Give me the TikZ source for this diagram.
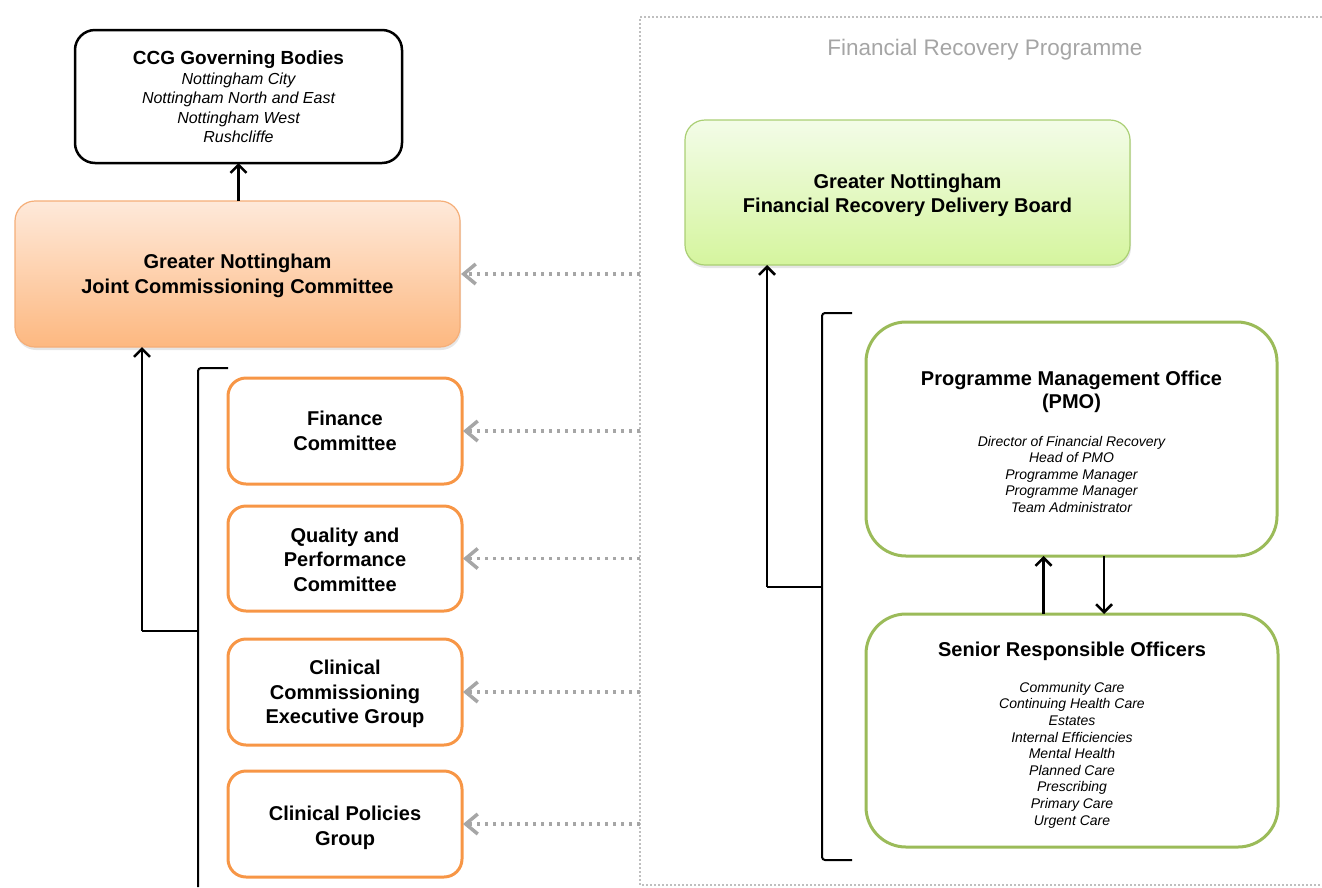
\documentclass[tikz,border=0pt]{standalone}
\usepackage{fontspec}
\setmainfont{Liberation Sans}
\usetikzlibrary{arrows.meta,shadows,calc}
\definecolor{orng}{HTML}{F79646}
\definecolor{orngL}{HTML}{F5AE78}
\definecolor{jcctop}{HTML}{FEE9DA}
\definecolor{jccbot}{HTML}{FDB880}
\definecolor{grn}{HTML}{9BBB59}
\definecolor{grnL}{HTML}{AACF74}
\definecolor{frtop}{HTML}{F3FCE8}
\definecolor{frbot}{HTML}{D5F59E}
\definecolor{dgray}{HTML}{A6A6A6}
\definecolor{fgray}{HTML}{BFBFBF}
\definecolor{tgray}{HTML}{A5A5A5}
\newcommand{\ttlfont}{\bfseries\fontsize{20}{24.5}\selectfont}
\newcommand{\itlist}{\mdseries\itshape\fontsize{14}{16.6}\selectfont}
\newcommand{\itccg}{\mdseries\itshape\fontsize{16}{19.3}\selectfont}
\newcommand{\tp}[1]{\rule{0pt}{#1pt}}
\begin{document}
\begin{tikzpicture}[x=1pt,y=-1pt,
  every node/.style={align=center, inner sep=0pt, outer sep=0pt},
  blackbox/.style={draw=black, line width=2.5pt, rounded corners=20pt, fill=white},
  jccbox/.style={draw=orngL, line width=1.2pt, rounded corners=20pt, top color=jcctop, bottom color=jccbot,
     drop shadow={opacity=0.2,shadow xshift=1pt,shadow yshift=-3pt}},
  frbox/.style={draw=grnL, line width=1.2pt, rounded corners=20pt, top color=frtop, bottom color=frbot,
     drop shadow={opacity=0.2,shadow xshift=1pt,shadow yshift=-3pt}},
  orbox/.style={draw=orng, line width=3pt, rounded corners=18pt, fill=white, minimum width=234pt, font=\ttlfont},
  gnbox/.style={draw=grn, line width=3pt, rounded corners=40pt, fill=white},
  barr/.style={draw=black, line width=2.5pt, -{Straight Barb[length=8pt,width=16pt]}},
  bline/.style={draw=black, line width=2pt},
  garr/.style={draw=dgray, line width=3.5pt, dash pattern=on 3.5pt off 4.5pt,
     -{Straight Barb[length=12pt,width=20pt,line width=3.5pt]}, shorten >=1pt},
  frame/.style={draw=fgray, line width=2pt, dash pattern=on 2pt off 2pt}
]
\useasboundingbox (0,0) rectangle (1322,887);

% frame
\coordinate (frTL) at (640,17);
\coordinate (frBL) at (640,885);
\draw[frame] (1322,17) -- (frTL) -- (frBL) -- (1322,885);
\node[font=\fontsize{22.5}{26}\selectfont, text=tgray, anchor=base] (frp) at (985,55) {Financial Recovery Programme};

% left side
\node[blackbox, minimum width=327pt, minimum height=133pt, font=\bfseries\fontsize{19}{20}\selectfont] (ccg) at (238.5,96.5)
  {\tp{20}CCG Governing Bodies\\{\itccg\begin{tabular}[t]{@{}c@{}}Nottingham City\\Nottingham North and East\\Nottingham West\\Rushcliffe\end{tabular}}};
\node[jccbox, minimum width=445pt, minimum height=146pt, font=\ttlfont] (jcc) at (237.5,274)
  {\tp{18.6}Greater Nottingham\\Joint Commissioning Committee};
\node[orbox, minimum height=106pt] (fin) at (345,431) {Finance\\Committee};
\node[orbox, minimum height=105pt] (qp) at (345,558.5) {\tp{16.6}Quality and\\Performance\\Committee};
\node[orbox, minimum height=106pt] (cceg) at (345,692) {\tp{18.6}Clinical\\Commissioning\\Executive Group};
\node[orbox, minimum height=106pt] (cpg) at (345,824) {\tp{22.6}Clinical Policies\\Group};

\draw[barr] (ccg.south |- jcc.north) -- (ccg.south);
\coordinate (b1) at (142,631);
\coordinate (br1t) at (228,368);
\coordinate (br1) at (198,368);
\draw[bline, rounded corners=3pt] (br1t) -- (br1) -- (198,887);
\draw[bline] (198,631) -- (b1);
\draw[barr] (b1) -- (b1 |- jcc.south);

% right side
\node[frbox, minimum width=445pt, minimum height=145pt, font=\ttlfont] (frdb) at (907.5,192.5)
  {\tp{20.6}Greater Nottingham\\Financial Recovery Delivery Board};
\node[gnbox, minimum width=411pt, minimum height=234pt, font=\bfseries\fontsize{20}{23}\selectfont] (pmo) at (1071.5,439)
  {\tp{24.5}Programme Management Office\\(PMO)\\[15pt]{\itlist\begin{tabular}[t]{@{}c@{}}Director of Financial Recovery\\Head of PMO\\Programme Manager\\Programme Manager\\Team Administrator\end{tabular}}};
\node[gnbox, minimum width=412pt, minimum height=233pt, font=\bfseries\fontsize{20}{23}\selectfont] (sro) at (1072,730.5)
  {\tp{25.5}Senior Responsible Officers\\[13pt]{\itlist\begin{tabular}[t]{@{}c@{}}Community Care\\Continuing Health Care\\Estates\\Internal Efficiencies\\Mental Health\\Planned Care\\Prescribing\\Primary Care\\Urgent Care\end{tabular}}};

\coordinate (b2) at (767,587);
\draw[bline, rounded corners=3pt] (852,313) -- (822,313) -- (822,860) -- (852,860);
\draw[bline] (822,587) -- (b2);
\draw[barr] (b2) -- (b2 |- frdb.south);

\draw[barr] ([xshift=-28.5pt]sro.north) -- ([xshift=-28.5pt]sro.north |- pmo.south);
\draw[barr] ([xshift=32.5pt]pmo.south) -- ([xshift=32.5pt]pmo.south |- sro.north);

% dotted connectors from the programme frame
\draw[garr] (jcc.east -| frTL) -- (jcc.east);
\draw[garr] (fin.east -| frTL) -- (fin.east);
\draw[garr] (qp.east -| frTL) -- (qp.east);
\draw[garr] (cceg.east -| frTL) -- (cceg.east);
\draw[garr] (cpg.east -| frTL) -- (cpg.east);
\end{tikzpicture}
\end{document}
